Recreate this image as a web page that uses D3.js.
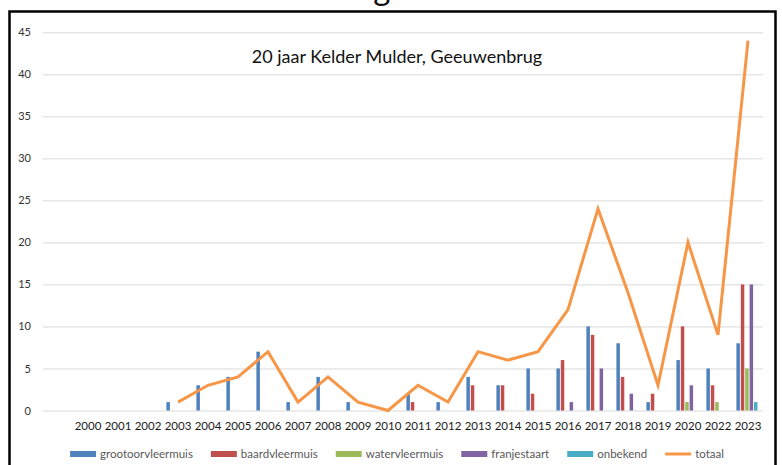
<!DOCTYPE html>
<html>
<head>
<meta charset="utf-8">
<script src="https://cdn.jsdelivr.net/npm/d3@7"></script>
<style>
  html, body { margin: 0; padding: 0; background: #fff; }
  svg { display: block; }
  text { font-family: Lato, "Open Sans", sans-serif; }
</style>
</head>
<body>
<svg id="chart" width="782" height="465"></svg>
<script>
// ---- data ----
const years = ["2000","2001","2002","2003","2004","2005","2006","2007","2008","2009","2010",
               "2011","2012","2013","2014","2015","2016","2017","2018","2019","2020","2022","2023"];
const grootoorvleermuis = [0,0,0,1,3,4,7,1,4,1,0,2,1,4,3,5,5,10,8,1,6,5,8];
const baardvleermuis    = [0,0,0,0,0,0,0,0,0,0,0,1,0,3,3,2,6,9,4,2,10,3,15];
const watervleermuis    = [0,0,0,0,0,0,0,0,0,0,0,0,0,0,0,0,0,0,0,0,1,1,5];
const franjestaart      = [0,0,0,0,0,0,0,0,0,0,0,0,0,0,0,0,1,5,2,0,3,0,15];
const onbekend          = [0,0,0,0,0,0,0,0,0,0,0,0,0,0,0,0,0,0,0,0,0,0,1];
const totaal            = [null,null,null,1,3,4,7,1,4,1,0,3,1,7,6,7,12,24,14,3,20,9,44];
const yTicks = [0,5,10,15,20,25,30,35,40,45];
const chartTitle = "20 jaar Kelder Mulder, Geeuwenbrug";
const pageHeading = "Resultaten vleermuistellingen";

const barSeries = [
  { name: "grootoorvleermuis", values: grootoorvleermuis, color: "#4F81BD" },
  { name: "baardvleermuis",    values: baardvleermuis,    color: "#C0504D" },
  { name: "watervleermuis",    values: watervleermuis,    color: "#9BBB59" },
  { name: "franjestaart",      values: franjestaart,      color: "#8064A2" },
  { name: "onbekend",          values: onbekend,          color: "#4BACC6" }
];
const lineSeries = { name: "totaal", values: totaal, color: "#F79646" };

// ---- layout ----
const svg = d3.select("#chart");
const plot = { left: 43, right: 763, top: 32.3, bottom: 410.5 };
const categories = [""].concat(years); // leading empty category as in the original

const x0 = d3.scaleBand().domain(categories).range([plot.left, plot.right]).padding(0);
const bw = x0.bandwidth();
const x1 = d3.scaleBand().domain(barSeries.map(s => s.name))
  .range([bw / 2 - 12, bw / 2 + 10]).padding(0);
const y = d3.scaleLinear().domain([0, 45]).range([plot.bottom, plot.top]);

// heading text cut off at the top of the picture (only its lowest pixels show)
svg.append("text")
  .attr("x", 2).attr("y", -0.5)
  .attr("font-size", 33).attr("fill", "#111")
  .text(pageHeading);

// gridlines + y labels
const yAxis = d3.axisLeft(y).tickValues(yTicks).tickSize(-(plot.right - plot.left)).tickPadding(12);
const gy = svg.append("g").attr("transform", `translate(${plot.left},0)`).call(yAxis);
gy.select(".domain").remove();
gy.selectAll(".tick line").attr("stroke", "#D9D9D9").attr("stroke-width", 1);
gy.selectAll(".tick text").attr("font-size", 11).attr("fill", "#333")
  .attr("font-family", "Lato, sans-serif");

// x axis labels
const xAxis = d3.axisBottom(x0).tickSize(0).tickPadding(11);
const gx = svg.append("g").attr("transform", `translate(0,${plot.bottom})`).call(xAxis);
gx.select(".domain").remove();
gx.selectAll(".tick text").attr("font-size", 11.5).attr("fill", "#1a1a1a")
  .attr("font-family", "Lato, sans-serif");

// bars
const groups = svg.append("g").selectAll("g")
  .data(years)
  .join("g")
  .attr("transform", d => `translate(${x0(d)},0)`);

groups.selectAll("rect")
  .data((yr, i) => barSeries.map(s => ({ key: s.name, value: s.values[i], color: s.color })))
  .join("rect")
  .attr("x", d => x1(d.key) + 0.4)
  .attr("width", x1.bandwidth() - 0.9)
  .attr("y", d => y(d.value))
  .attr("height", d => y(0) - y(d.value))
  .attr("fill", d => d.color);

// total line
const line = d3.line()
  .defined(d => d.v !== null)
  .x(d => x0(d.yr) + bw / 2)
  .y(d => y(d.v));
svg.append("path")
  .datum(years.map((yr, i) => ({ yr, v: lineSeries.values[i] })))
  .attr("fill", "none")
  .attr("stroke", lineSeries.color)
  .attr("stroke-width", 3)
  .attr("stroke-linejoin", "miter")
  .attr("d", line);

// title
svg.append("text")
  .attr("x", 397).attr("y", 63)
  .attr("text-anchor", "middle")
  .attr("font-size", 18).attr("fill", "#111")
  .text(chartTitle);

// legend
const legendItems = barSeries.map(s => ({ name: s.name, color: s.color, type: "bar" }))
  .concat([{ name: lineSeries.name, color: lineSeries.color, type: "line" }]);
const lg = svg.append("g");
const gap = 18;
let cx = 0;
legendItems.forEach(it => {
  const g = lg.append("g").attr("transform", `translate(${cx},0)`);
  if (it.type === "bar") {
    g.append("rect").attr("x", 0).attr("y", -3).attr("width", 26).attr("height", 6).attr("fill", it.color);
  } else {
    g.append("line").attr("x1", 0).attr("x2", 26).attr("y1", 0).attr("y2", 0)
      .attr("stroke", it.color).attr("stroke-width", 3);
  }
  const t = g.append("text").attr("x", 30).attr("y", 4)
    .attr("font-size", 11.5).attr("fill", "#595959").text(it.name);
  cx += 30 + t.node().getComputedTextLength() + gap;
});
const legendWidth = cx - gap;
lg.attr("transform", `translate(${397 - legendWidth / 2},454)`);

// chart border
svg.append("rect")
  .attr("x", 9.5).attr("y", 11.5).attr("width", 766).attr("height", 500)
  .attr("fill", "none").attr("stroke", "#000").attr("stroke-width", 2.5);
</script>
</body>
</html>
